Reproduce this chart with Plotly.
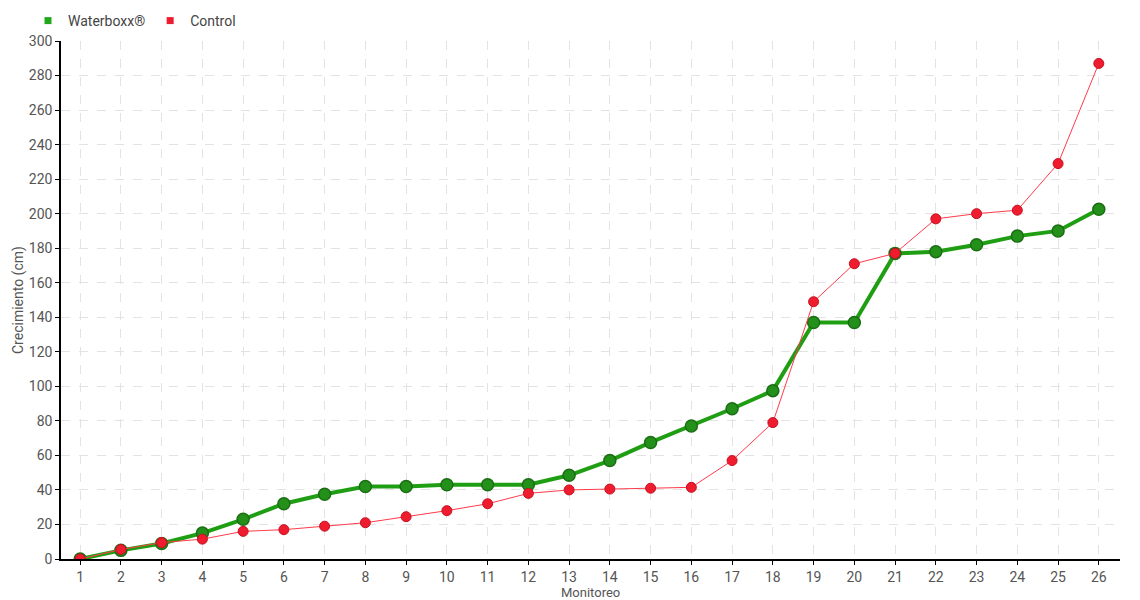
import plotly.graph_objects as go

monitoreo = list(range(1, 27))
waterboxx = [0, 5, 9, 15, 23, 32, 37.5, 42, 42, 43, 43, 43, 48.5, 57, 67.5, 77, 87, 97.5,
             137, 137, 177, 178, 182, 187, 190, 202.5]
control = [0, 5.5, 9.5, 11.5, 16, 17, 19, 21, 24.5, 28, 32, 38, 40, 40.5, 41, 41.5, 57, 79,
           149, 171, 177, 197, 200, 202, 229, 287]
y_ticks = list(range(0, 301, 20))

FONT = "Roboto, DejaVu Sans, sans-serif"
GREEN = "#1f9e14"
RED = "#ee1c2e"

W, H = 1140, 600
ML, MR, MT, MB = 61, 20, 41, 41
PW, PH = W - ML - MR, H - MT - MB

fig = go.Figure()
fig.add_trace(go.Scatter(
    x=monitoreo, y=waterboxx, mode="lines+markers", name="Waterboxx®", showlegend=False,
    line=dict(color=GREEN, width=4),
    marker=dict(size=12, color="#23901a", line=dict(color="#1b6e14", width=1.5)),
))
fig.add_trace(go.Scatter(
    x=monitoreo, y=control, mode="lines+markers", name="Control", showlegend=False,
    line=dict(color="#ff3b4a", width=1),
    marker=dict(size=10, color=RED, line=dict(color="#c8101f", width=1)),
))
# legend entries
fig.add_trace(go.Scatter(x=[None], y=[None], mode="markers", name="Waterboxx®",
                         marker=dict(symbol="square", size=7, color="#22a81a")))
fig.add_trace(go.Scatter(x=[None], y=[None], mode="markers", name="Control",
                         marker=dict(symbol="square", size=7, color=RED)))

fig.update_layout(
    width=W, height=H,
    margin=dict(l=ML, r=MR, t=MT, b=MB, autoexpand=False),
    paper_bgcolor="white", plot_bgcolor="white",
    font=dict(family=FONT, size=14, color="#555555"),
    legend=dict(orientation="h", xref="container", yref="container",
                x=28 / W, xanchor="left", y=1 - 21 / H, yanchor="middle",
                font=dict(size=14, color="#444444"), itemwidth=30, tracegroupgap=0,
                bgcolor="rgba(0,0,0,0)"),
    xaxis=dict(
        range=[0.53, 26.52], tickmode="array", tickvals=monitoreo,
        ticktext=[str(v) for v in monitoreo],
        showline=True, linecolor="black", linewidth=1.5,
        ticks="outside", ticklen=4, tickcolor="black",
        showgrid=True, gridcolor="#e3e3e3", griddash="dash", gridwidth=1,
        zeroline=False,
        tickfont=dict(size=14, color="#555555"),
    ),
    yaxis=dict(
        range=[0, 300], tickmode="array", tickvals=y_ticks,
        showline=True, linecolor="black", linewidth=1.5,
        ticks="outside", ticklen=4, tickcolor="black",
        showgrid=True, gridcolor="#e3e3e3", griddash="dash", gridwidth=1,
        zeroline=False,
        tickfont=dict(size=14, color="#555555"),
    ),
    annotations=[
        dict(text="Monitoreo", xref="paper", yref="paper", x=0.5, y=-(592 - (H - MB)) / PH,
             yanchor="middle", showarrow=False, font=dict(size=13, color="#555555")),
        dict(text="Crecimiento (cm)", xref="paper", yref="paper", x=(18 - ML) / PW, y=0.5,
             xanchor="center", yanchor="middle", textangle=-90, showarrow=False,
             font=dict(size=14, color="#555555")),
    ],
)

fig.write_html("out.html", config={"displayModeBar": False},
               post_script="document.body.style.margin='0';")
